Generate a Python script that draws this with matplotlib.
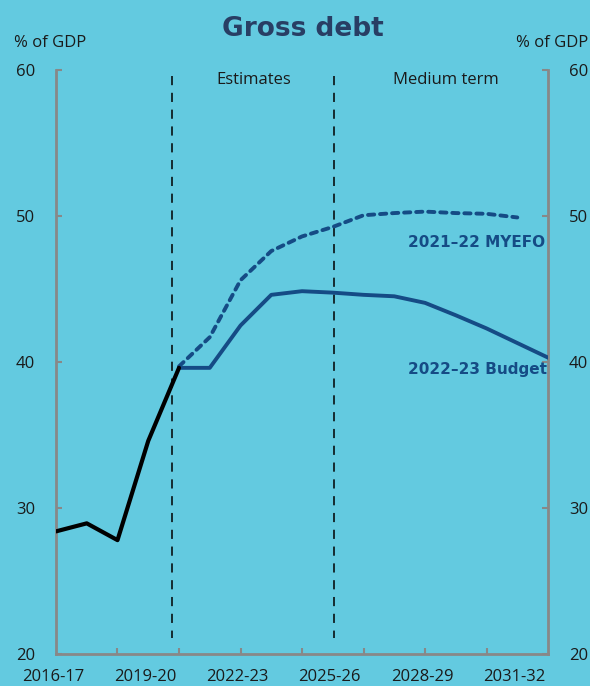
import matplotlib
matplotlib.use("Agg")
import matplotlib.pyplot as plt

years = ["2016-17", "2017-18", "2018-19", "2019-20", "2020-21", "2021-22", "2022-23",
         "2023-24", "2024-25", "2025-26", "2026-27", "2027-28", "2028-29", "2029-30",
         "2030-31", "2031-32", "2032-33"]
actual = [28.4, 28.95, 27.8, 34.6, 39.6]
budget = [39.6, 39.6, 42.5, 44.6, 44.85, 44.75, 44.6, 44.5, 44.05, 43.2, 42.3, 41.3, 40.3]
myefo = [39.7, 41.7, 45.6, 47.6, 48.6, 49.25, 50.05, 50.2, 50.3, 50.2, 50.15, 49.9]
label_years = ["2016-17", "2019-20", "2022-23", "2025-26", "2028-29", "2031-32"]
tick_years = ["2018-19", "2020-21", "2022-23", "2024-25", "2026-27", "2028-29", "2030-31"]
yticks = [20, 30, 40, 50, 60]

BG = "#63cae0"
BLUE = "#154b85"
NAVY = "#283e64"
GREY = "#888888"
FONT = "Open Sans"
BOLD = ["DejaVu Sans"]

plt.rcParams["font.family"] = [FONT, "DejaVu Sans"]

fig = plt.figure(figsize=(5.9, 6.86), dpi=100, facecolor=BG)
ax = fig.add_axes([0.0949, 0.0466, 0.834, 0.8514], facecolor=BG)

xi = {y: i for i, y in enumerate(years)}
ax.plot([xi[y] for y in years[:5]], actual, color="black", lw=3.0, solid_capstyle="round", zorder=4)
ax.plot([xi[y] for y in years[4:4 + len(budget)]], budget, color=BLUE, lw=2.8, zorder=3)
ax.plot([xi[y] for y in years[4:4 + len(myefo)]], myefo, color=BLUE, lw=2.8,
        dashes=(1.6, 1.5), dash_capstyle="round", zorder=3)

for xv in (3.78, 9.05):
    ax.plot([xv, xv], [59.6, 21.1], color="black", lw=1.1, dashes=(6, 5), zorder=2)

ax.set_xlim(0, 16)
ax.set_ylim(20, 60)
ax.set_xticks([xi[y] for y in tick_years])
ax.set_xticklabels([])
ax.tick_params(axis="x", direction="in", length=4, width=1.5, color=GREY)
for y in label_years:
    ax.text(xi[y] - 0.1, 18.95, y, ha="center", va="top", fontsize=12, color="#1a1a1a")

ax.set_yticks(yticks)
ax.tick_params(axis="y", direction="in", length=4, width=1.5, color=GREY,
               labelsize=12, labelcolor="#1a1a1a", pad=15, left=True, right=True,
               labelleft=True, labelright=True)
for s in ("top",):
    ax.spines[s].set_visible(False)
for s in ("left", "right", "bottom"):
    ax.spines[s].set_color(GREY)
    ax.spines[s].set_linewidth(2)

ax.text(6.44, 59.3, "Estimates", ha="center", va="center", fontsize=12, color="#1a1a1a")
ax.text(12.68, 59.3, "Medium term", ha="center", va="center", fontsize=12, color="#1a1a1a")
ax.text(15.9, 48.15, "2021\u201322 MYEFO", ha="right", va="center", fontsize=11,
        fontweight="bold", color=BLUE, family=BOLD)
ax.text(15.98, 39.5, "2022\u201323 Budget", ha="right", va="center", fontsize=11,
        fontweight="bold", color=BLUE, family=BOLD)

fig.text(0.085, 0.938, "% of GDP", ha="center", va="center", fontsize=12, color="#1a1a1a")
fig.text(0.935, 0.938, "% of GDP", ha="center", va="center", fontsize=12, color="#1a1a1a")
fig.text(0.513, 0.958, "Gross debt", ha="center", va="center", fontsize=19,
         fontweight="bold", color=NAVY, family=BOLD)

fig.savefig("out.png", dpi=100, facecolor=BG)
